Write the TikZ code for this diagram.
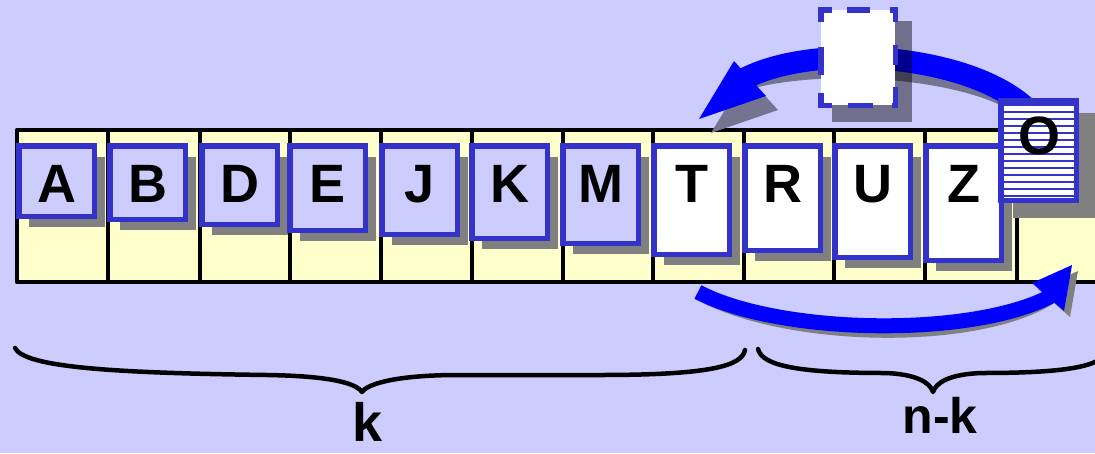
\documentclass[tikz,border=0pt]{standalone}
\usepackage{fontspec}
\setmainfont{Liberation Sans}
\usetikzlibrary{shadows,calc}
\definecolor{bgc}{HTML}{CCCCFF}
\definecolor{cellyel}{HTML}{FFFFCC}
\definecolor{boxblue}{HTML}{3333CC}
\definecolor{arrblue}{HTML}{0000FF}
\definecolor{shgray}{HTML}{808080}
\definecolor{arcsh}{HTML}{747490}
\begin{document}
\begin{tikzpicture}[x=1pt,y=-1pt,
  cbox/.style={draw=boxblue, line width=5.5pt, inner sep=0pt, outer sep=0pt,
    minimum width=75.5pt, anchor=north west,
    drop shadow={shadow xshift=10.5pt, shadow yshift=-11pt, fill=shgray, opacity=1}},
  letter/.style={font=\fontsize{54}{60}\selectfont\bfseries, inner sep=0pt, anchor=base},
  divline/.style={line width=4.5pt, black},
  brace/.style={line width=4.5pt, black, line cap=round, line join=round},
  dbline/.style={draw=boxblue, line width=5.5pt, shorten <=-2.75pt, shorten >=-2.75pt}
]
\useasboundingbox (0,0) rectangle (1095,453);
\clip (0,0) rectangle (1095,453);
\fill[bgc] (0,0) rectangle (1095,453);

% array
\fill[cellyel] (17,130) rectangle (1120,282);
\foreach \x in {108,200,290,381,472,563,653,744,834,925,1017}
  \draw[divline] (\x,130) -- (\x,282);
\draw[divline, line join=round] (1120,130) -- (17,130) -- (17,282) -- (1120,282);

% cell boxes
\foreach \x/\b/\l/\f in {16/219/A/bgc, 107/222/B/bgc, 199/227/D/bgc, 287/233/E/bgc,
    379/237/J/bgc, 469/241/K/bgc, 560/246/M/bgc, 651/257/T/white, 742/253/R/white,
    832/260/U/white, 923/263/Z/white}
{
  \node[cbox, fill=\f, minimum height={\b-148.5}] (b\l) at (\x+2.75,145.75) {};
  \node[letter] (l\l) at (\x+40.5,202) {\l};
}

% shadow of O box
\fill[shgray] (1013,113) rectangle (1100,218);

% top arc
\coordinate (tS) at (1032,114);
\coordinate (tE) at (742,80);
\begin{scope}[shift={(12,14)}]
  \draw[arcsh, line width=22pt] (tS) .. controls (980,55) and (815,40) .. (tE);
  \fill[arcsh] (699,119) -- (734,61) -- (766,96) -- cycle;
\end{scope}
\draw[arrblue, line width=22pt] (tS) .. controls (980,55) and (815,40) .. (tE);
\fill[arrblue] (699,119) -- (734,61) -- (766,96) -- cycle;

% dashed box
\fill[black, opacity=0.45] (832,21) rectangle (912,122);
\node[fill=white, inner sep=0pt, outer sep=0pt, minimum width=74.5pt, minimum height=95.5pt,
  anchor=north west] (db) at (820.75,9.75) {};
\draw[dbline, dash pattern=on 14pt off 15pt on 23pt off 20pt on 8pt off 60pt]
  (db.north west) -- (db.north east);
\draw[dbline, dash pattern=on 15pt off 25pt on 28pt off 18pt on 15pt off 60pt]
  (db.north west) -- (db.south west);
\draw[dbline, dash pattern=on 15pt off 23pt on 20pt off 22pt on 21pt off 60pt]
  (db.north east) -- (db.south east);
\draw[dbline, dash pattern=on 14pt off 16pt on 25pt off 19pt on 6pt off 60pt]
  (db.south west) -- (db.south east);

% O box
\node[draw=boxblue, line width=5.5pt, fill=white, inner sep=0pt, outer sep=0pt,
  minimum width=75.5pt, minimum height=99.5pt, anchor=north west,
  path picture={
    \foreach \k in {0,...,13}
      \draw[boxblue, line width=2pt]
        ($(path picture bounding box.north west)+(-5,4+7*\k)$) -- ++(95,0);
  }] (bO) at (1000.75,100.75) {};
\node[letter] (lO) at (1039,154) {O};

% bottom arrow
\coordinate (bS) at (698,292);
\coordinate (bE) at (1053,295);
\begin{scope}[shift={(6,6)}]
  \draw[shgray, line width=15pt] (bS) .. controls (780,335) and (975,338) .. (bE);
  \fill[shgray] (1072,265) -- (1032,283) -- (1064,311) -- cycle;
\end{scope}
\draw[arrblue, line width=15pt] (bS) .. controls (780,335) and (975,338) .. (bE);
\fill[arrblue] (1072,265) -- (1032,283) -- (1064,311) -- cycle;

% braces
\draw[brace] (15,348) .. controls (25,368) and (120,373) .. (267,375)
  .. controls (330,376) and (356,383) .. (362,392)
  .. controls (368,383) and (400,375) .. (458,375) -- (600,375)
  .. controls (710,375) and (742,366) .. (745,350);
\draw[brace] (758,349) .. controls (762,366) and (800,373) .. (885,373)
  .. controls (915,374) and (930,382) .. (933,392)
  .. controls (936,382) and (951,374) .. (982,373)
  .. controls (1070,373) and (1104,366) .. (1108,349);

\node[letter] (kl) at (368,441) {k};
\node[letter, font=\fontsize{50}{56}\selectfont\bfseries] (nkl) at (940,433) {n-k};
\end{tikzpicture}
\end{document}
